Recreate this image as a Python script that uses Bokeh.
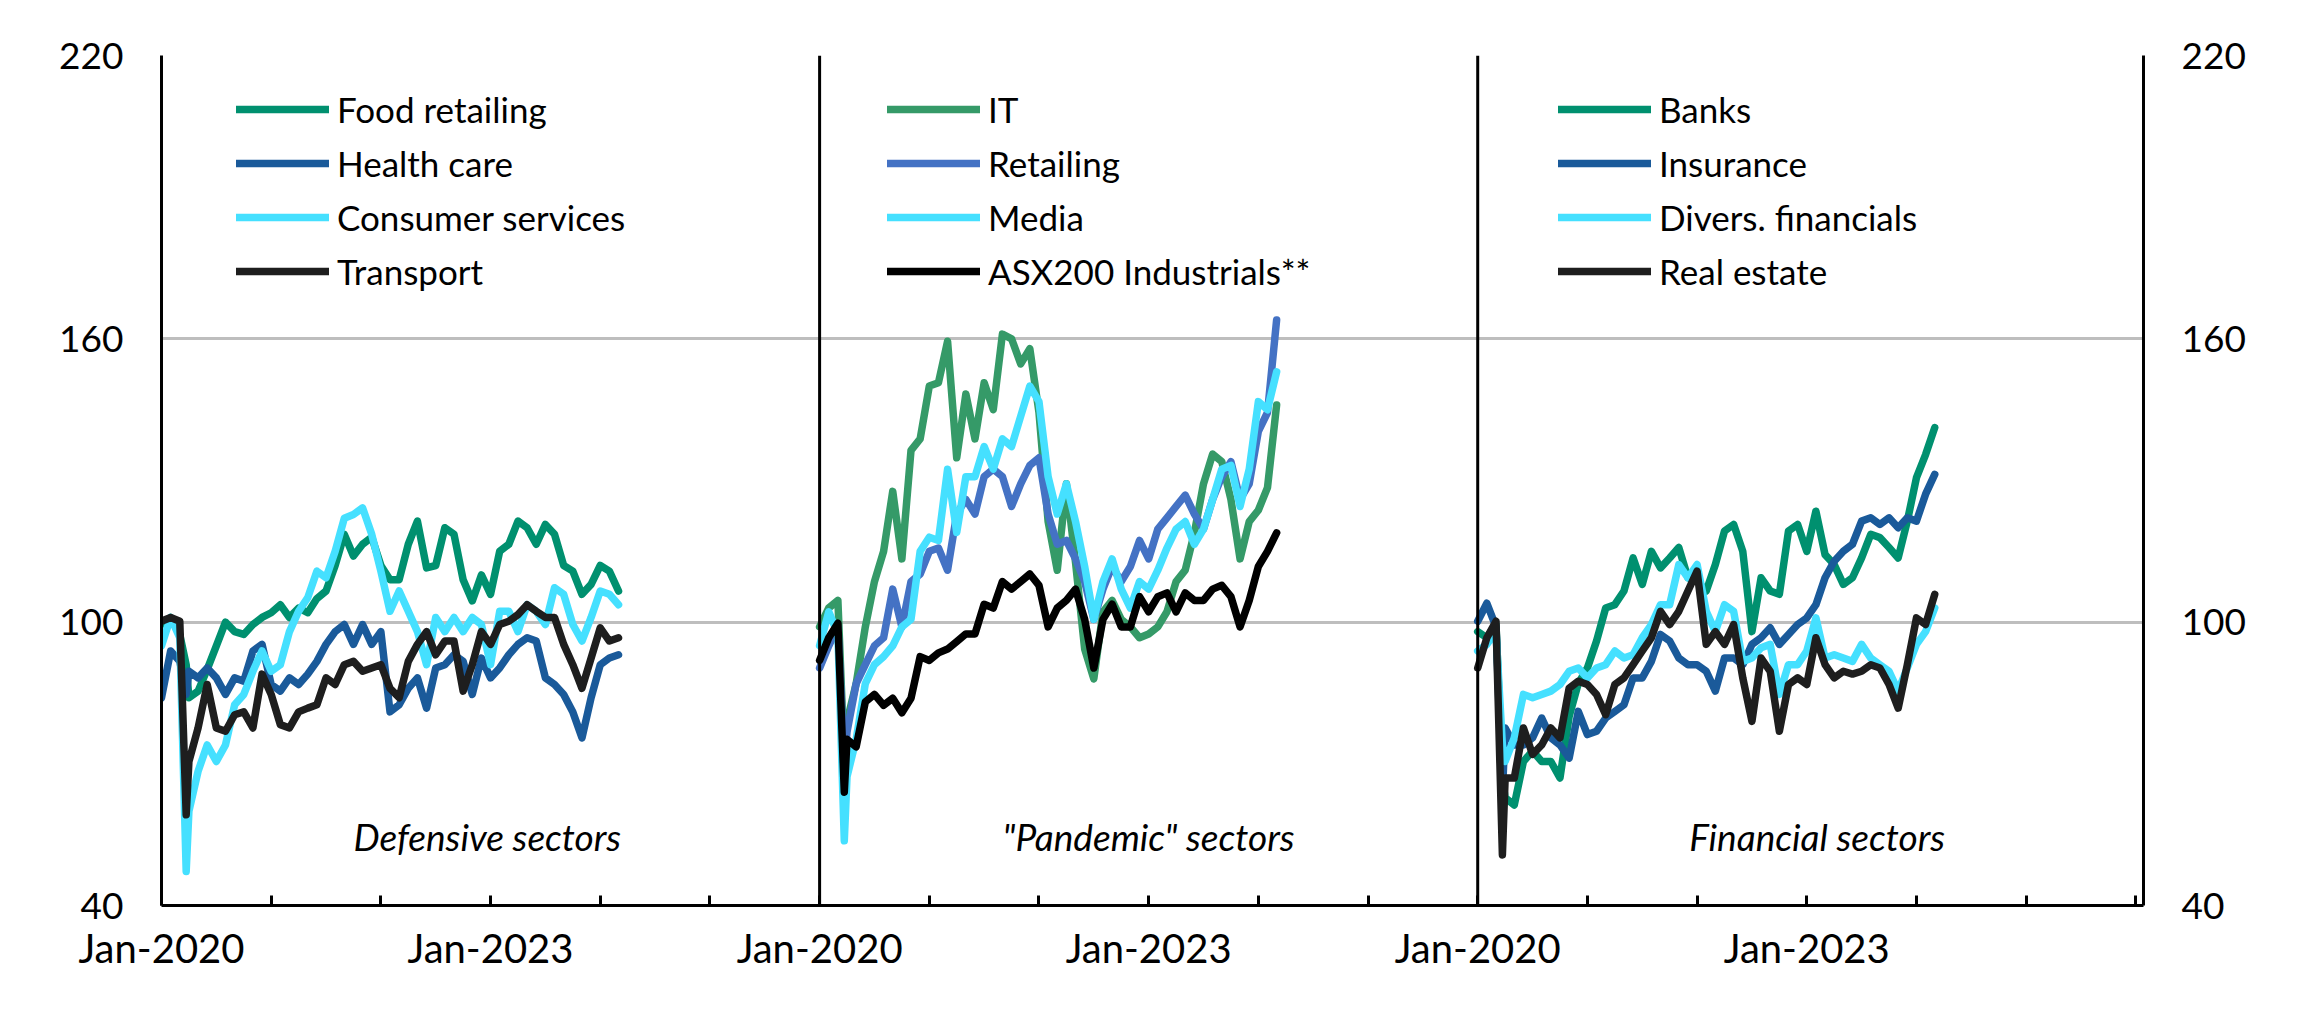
from bokeh.plotting import figure
from bokeh.models import Range1d, LinearAxis, FixedTicker, Span, Legend, LegendItem, Label
from bokeh.embed import file_html
from bokeh.resources import INLINE

# ---- data: months since Jan-2020 (shared by every series) ----
MONTHS = [0, 1, 2, 2.7, 3, 4, 5, 6, 7, 8, 9, 10, 11, 12, 13, 14, 15, 16, 17, 18, 19, 20,
          21, 22, 23, 24, 25, 26, 27, 28, 29, 30, 31, 32, 33, 34, 35, 36, 37, 38, 39, 40,
          41, 42, 43, 44, 45, 46, 47, 48, 49, 50]

# Defensive sectors
FOOD_RETAILING = [99.5, 101, 97.4, 91, 84, 85.4, 90, 95, 100, 98, 97.4, 99.5, 101, 102, 103.7, 101,
                  103, 102, 105, 106.6, 112, 118.6, 114, 116.5, 118, 112, 109, 109, 116.5, 121.4,
                  111.5, 112, 120, 118.6, 109, 104.5, 110, 105.9, 115, 116.5, 121.4, 120, 116.5,
                  120.7, 118.6, 112, 110.8, 105.9, 108, 112, 110.8, 106.6]
HEALTH_CARE = [84, 93.9, 91.7, 84.7, 89.6, 88.2, 90.3, 88.2, 84.7, 88.2, 87.5, 93.9, 95.3, 86.8,
               85.4, 88.2, 86.8, 89, 91.7, 95.3, 98, 99.5, 95.3, 99.5, 95.3, 98, 81, 82.5, 86, 88.2,
               81.8, 90.3, 91, 93.1, 91.7, 84.7, 92.4, 88.2, 90.3, 93.1, 95.3, 96.7, 96, 88.2,
               86.8, 84.7, 81, 75.5, 84, 91, 92.4, 93.1]
CONSUMER_SERVICES = [95, 101, 96.7, 47.2, 60, 68.4, 74, 70.5, 74, 82.5, 84.7, 89.6, 93.9, 89.6, 91,
                     98, 102.3, 105.2, 110.8, 109.4, 115, 122, 122.8, 124.2, 118.6, 110.8, 102.3,
                     106.6, 102.3, 98, 91, 101, 98, 101, 98, 101, 99.5, 91, 102.3, 102.3, 98,
                     103.7, 102.3, 99.5, 107.3, 105.9, 99.5, 96, 101, 106.6, 105.9, 103.7]
TRANSPORT = [100.2, 101, 100.2, 59.2, 70.5, 77.6, 86.8, 77.6, 76.9, 80.4, 81, 77.6, 89, 84.7, 78.3,
             77.6, 81, 81.8, 82.5, 88.2, 86.8, 91, 91.7, 89.6, 90.3, 91, 86, 84, 91.7, 95.3, 98,
             93.1, 96, 96, 85.4, 91, 98, 95.3, 99.5, 100.2, 101.6, 103.7, 102.3, 101, 101, 95.3,
             91, 86, 92.4, 98.8, 96, 96.7]

# "Pandemic" sectors
IT = [99, 103, 104.6, 71, 79, 87, 99, 108.6, 115, 127.7, 113.4, 136.4, 138.8, 150, 150.7, 159.5,
      134.8, 148.3, 138.8, 150.7, 145, 161, 160, 154.7, 157.9, 144.4, 121.3, 111, 129.3, 112.6,
      94.3, 88, 102.2, 104.6, 100.6, 99, 96.7, 97.5, 99, 102.2, 108.6, 111, 118.9, 129.3, 135.6,
      134, 126, 113.4, 121.3, 123.7, 128.5, 146]
RETAILING = [90.3, 95, 99, 70.4, 76.8, 87, 91, 95, 96.7, 107, 99, 108.6, 110.2, 115, 115.7, 111,
             122.9, 126, 122.9, 130.8, 132.4, 130.8, 124.5, 129.3, 133.2, 134.8, 122.9, 116.5,
             117.3, 113.4, 108.6, 100.6, 107, 111.8, 108.6, 111.8, 117.3, 113.4, 119.7, 122.1,
             124.5, 126.9, 122.9, 119.7, 126, 130.8, 134, 126, 129.3, 140.4, 144.4, 164]
MEDIA = [95, 102.2, 97.5, 53.7, 67.3, 75.2, 87, 91, 92.7, 95, 99, 100.6, 115, 118, 117.3, 132.4,
         119, 130.8, 130.8, 137.2, 132.4, 138.8, 137.2, 143.6, 150, 146.7, 130.8, 122.9, 129.3,
         121.3, 111.8, 100.6, 108.6, 113.4, 107, 103, 108.6, 107, 111, 115.7, 119.7, 121.3,
         116.5, 119.7, 126, 132.4, 133.2, 124.5, 132.4, 146.7, 145, 153]
ASX200_INDUSTRIALS = [91.9, 96.7, 99.8, 64, 75.2, 73.6, 83.1, 84.7, 82.4, 83.9, 80.8, 83.9, 92.7,
                      91.9, 93.5, 94.3, 95.9, 97.5, 97.5, 103.8, 103, 108.6, 107, 108.6, 110.2,
                      107.8, 99, 103, 104.6, 107, 100.6, 90.3, 100.6, 103.8, 99, 99, 105.4, 102.2,
                      105.4, 106.2, 102.2, 106.2, 104.6, 104.6, 107, 107.8, 105.4, 99, 104.6,
                      111.8, 115, 118.9]

# Financial sectors
BANKS = [98, 96.7, 99.5, 67, 62.8, 61.3, 70.5, 72.7, 70.5, 70.5, 67, 80, 87, 90.3, 96, 103, 103.7,
         106.6, 113.6, 108, 115, 111.5, 113.6, 115.8, 109.4, 108.7, 106.6, 112.2, 119.3, 120.7,
         115, 98, 109.4, 106.6, 105.9, 119.3, 120.7, 115, 123.5, 114.3, 112.2, 108, 109.4, 113.6,
         118.6, 117.9, 115.8, 113.6, 121.4, 130.6, 135.5, 141.2]
INSURANCE = [100.2, 104, 99, 63.5, 77.6, 74, 74, 75.5, 79.7, 75.5, 74, 71.2, 81.1, 76.2, 76.9,
             79.7, 81.1, 82.5, 88.2, 88.2, 91.7, 97.4, 96, 92.4, 91, 91, 89.6, 85.4, 92.4, 92.4,
             91, 95.3, 96.7, 98.8, 95.3, 97.4, 99.5, 100.9, 103.7, 109.4, 112.9, 115, 116.5,
             121.4, 122.1, 120.7, 122.1, 120, 122.1, 121.4, 127.1, 131.3]
DIVERS_FINANCIALS = [93.9, 95.3, 98, 74, 70.5, 75.5, 84.7, 84, 84.7, 85.4, 86.8, 89.6, 90.3, 88.2,
                     90.3, 91, 93.9, 92.4, 93.1, 96.7, 99.5, 103.7, 103.7, 112.2, 109.4, 112.2,
                     102.3, 98, 103.7, 102.3, 91.7, 92.4, 94.6, 95.3, 84.7, 91, 91, 93.9, 100.9,
                     92.4, 93.1, 92.4, 91.7, 95.3, 92.4, 91, 89.6, 85.4, 90.3, 95.3, 98, 103]
REAL_ESTATE = [90.3, 96.7, 100.2, 50.7, 67, 67, 77.6, 72, 74, 77.6, 75.5, 86, 87.5, 86.8, 84.7,
               80.4, 86.8, 88.2, 91, 93.9, 96.7, 102.3, 99.5, 102.3, 106.6, 110.8, 95.3, 98, 95.3,
               99.5, 88.2, 79, 92.4, 89.6, 76.9, 86.8, 88.2, 86.8, 96.7, 91, 88.2, 89.6, 89, 89.6,
               91, 90.3, 86.8, 81.8, 91, 100.9, 99.5, 105.9]

Y_TICKS = [40, 100, 160, 220]
X_TICK_YEARS = [0, 1, 2, 3, 4, 5, 6, 7, 8, 9, 10, 11, 12, 13, 14, 15, 16, 17, 18]
X_TICK_LABELS = {0: "Jan-2020", 3: "Jan-2023", 6: "Jan-2020", 9: "Jan-2023",
                 12: "Jan-2020", 15: "Jan-2023"}

PANELS = [
    {"note": "Defensive sectors", "note_x": 4.19, "legend_x": 75,
     "series": [("Food retailing", FOOD_RETAILING, "#00906F"),
                ("Health care", HEALTH_CARE, "#1A5A9A"),
                ("Consumer services", CONSUMER_SERVICES, "#45E0FF"),
                ("Transport", TRANSPORT, "#1E1E1E")]},
    {"note": "\"Pandemic\" sectors", "note_x": 10.33, "legend_x": 726,
     "series": [("IT", IT, "#359A68"),
                ("Retailing", RETAILING, "#4472C4"),
                ("Media", MEDIA, "#45E0FF"),
                ("ASX200 Industrials**", ASX200_INDUSTRIALS, "#000000")]},
    {"note": "Financial sectors", "note_x": 16.26, "legend_x": 1397,
     "series": [("Banks", BANKS, "#00906F"),
                ("Insurance", INSURANCE, "#1A5A9A"),
                ("Divers. financials", DIVERS_FINANCIALS, "#45E0FF"),
                ("Real estate", REAL_ESTATE, "#1E1E1E")]},
]
PANEL_YEARS = 6
FONT = "Lato"

p = figure(width=2297, height=1001, output_backend="svg", toolbar_location=None,
           x_range=Range1d(0, 18.07), y_range=Range1d(40, 220),
           min_border_left=161, min_border_right=154, min_border_top=55, min_border_bottom=96)
p.outline_line_color = None
p.background_fill_color = "white"
p.border_fill_color = "white"

# grid
p.xgrid.visible = False
p.ygrid.ticker = FixedTicker(ticks=Y_TICKS)
p.ygrid.grid_line_color = "#BEBEBE"
p.ygrid.grid_line_width = 3

# x axis
xa = p.xaxis[0]
xa.ticker = FixedTicker(ticks=X_TICK_YEARS)
xa.major_label_overrides = {t: X_TICK_LABELS.get(t, "") for t in X_TICK_YEARS}
xa.major_tick_in = 10
xa.major_tick_out = 0
xa.minor_tick_line_color = None
xa.axis_line_width = 3
xa.major_tick_line_width = 3
xa.axis_line_color = "black"
xa.major_tick_line_color = "black"
xa.major_label_standoff = 18
xa.major_label_text_font = FONT
xa.major_label_text_font_size = "40px"
xa.major_label_text_color = "black"

# y axes (left + right)
def style_y(ax):
    ax.ticker = FixedTicker(ticks=Y_TICKS)
    ax.major_tick_in = 0
    ax.major_tick_out = 0
    ax.minor_tick_line_color = None
    ax.axis_line_width = 3
    ax.axis_line_color = "black"
    ax.major_label_standoff = 38
    ax.major_label_text_font = FONT
    ax.major_label_text_font_size = "37px"
    ax.major_label_text_color = "black"

style_y(p.yaxis[0])
right_axis = LinearAxis()
style_y(right_axis)
p.add_layout(right_axis, "right")

# panel dividers
for k in (1, 2):
    p.add_layout(Span(location=k * PANEL_YEARS, dimension="height",
                      line_color="black", line_width=3))

# series
for k, panel in enumerate(PANELS):
    xs = [k * PANEL_YEARS + m / 12 for m in MONTHS]
    items = []
    for name, vals, color in panel["series"]:
        r = p.line(xs, vals, line_color=color, line_width=7.5,
                   line_join="round", line_cap="round")
        items.append(LegendItem(label=name, renderers=[r]))
    legend = Legend(items=items, location=(panel["legend_x"], 612),
                    orientation="vertical", glyph_width=93, glyph_height=44,
                    label_height=44, spacing=10, padding=0, margin=0,
                    label_standoff=8, border_line_color=None,
                    background_fill_alpha=0, label_text_font=FONT,
                    label_text_font_size="35px", label_text_color="black")
    p.add_layout(legend, "center")
    p.add_layout(Label(x=panel["note_x"], y=54.6, text=panel["note"],
                       text_align="right", text_baseline="middle",
                       text_font=FONT, text_font_size="37px",
                       text_font_style="italic", text_color="black"))

open("out.html", "w").write(file_html(p, INLINE))
